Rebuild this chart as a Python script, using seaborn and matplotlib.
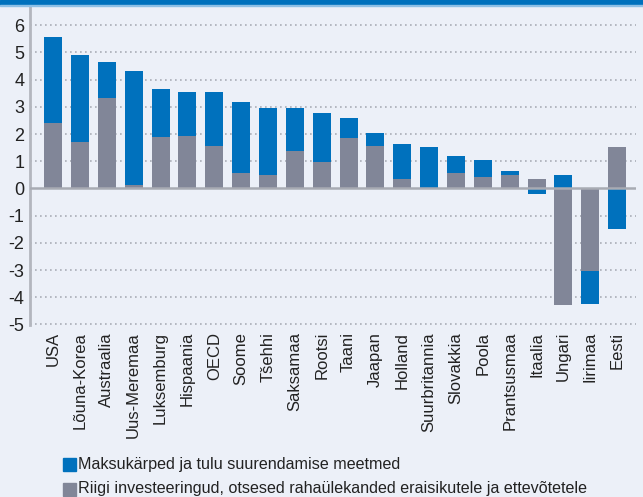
import matplotlib
matplotlib.use("Agg")
import matplotlib.pyplot as plt
from matplotlib import font_manager
from matplotlib.patches import Rectangle
import seaborn as sns
import numpy as np
import pandas as pd

countries = ["USA", "Lõuna-Korea", "Austraalia", "Uus-Meremaa", "Luksemburg",
             "Hispaania", "OECD", "Soome", "Tšehhi", "Saksamaa", "Rootsi", "Taani",
             "Jaapan", "Holland", "Suurbritannia", "Slovakkia", "Poola",
             "Prantsusmaa", "Itaalia", "Ungari", "Iirimaa", "Eesti"]
# Riigi investeeringud, otsesed rahaülekanded
spending = [2.42, 1.69, 3.34, 0.12, 1.88, 1.92, 1.55, 0.55, 0.51, 1.37, 0.99, 1.87,
            1.57, 0.33, 0.0, 0.56, 0.41, 0.48, 0.34, -4.29, -3.05, 1.51]
# Maksukärped ja tulu suurendamise meetmed
tax = [3.16, 3.23, 1.29, 4.18, 1.76, 1.64, 1.98, 2.63, 2.45, 1.59, 1.79, 0.73,
       0.48, 1.29, 1.52, 0.63, 0.63, 0.16, -0.20, 0.49, -1.21, -1.49]
y_ticks = [6, 5, 4, 3, 2, 1, 0, -1, -2, -3, -4, -5]
legend_labels = ["Maksukärped ja tulu suurendamise meetmed",
                 "Riigi investeeringud, otsesed rahaülekanded eraisikutele ja ettevõtetele"]

BLUE = "#0071BD"
GRAY = "#818698"
BG = "#ECF0F8"

sns.set_theme(style="white")
installed = {f.name for f in font_manager.fontManager.ttflist}
base_font = "Liberation Sans" if "Liberation Sans" in installed else "DejaVu Sans"
narrow_font = "Liberation Sans Narrow" if "Liberation Sans Narrow" in installed else base_font
plt.rcParams["font.family"] = [base_font, "DejaVu Sans"]

df = pd.DataFrame({"country": countries, "spending": spending, "tax": tax})
sp = np.array(spending)
tx = np.array(tax)
# tax segment sits on top of spending when both share a sign, otherwise starts at zero
df["tax_bottom"] = np.where(np.sign(sp) == np.sign(tx), sp, 0.0)

fig = plt.figure(figsize=(6.43, 4.97), dpi=100, facecolor=BG)
ax = fig.add_axes([30 / 643, 1 - 325 / 497, 606 / 643, 318 / 497])
ax.set_facecolor(BG)

sns.barplot(data=df, x="country", y="spending", color=GRAY, width=0.67,
            errorbar=None, saturation=1, ax=ax, zorder=3, linewidth=0)
sns.barplot(data=df, x="country", y="tax", bottom=df["tax_bottom"].to_numpy(),
            color=BLUE, width=0.67, errorbar=None, saturation=1, ax=ax, zorder=3,
            linewidth=0)

ax.set_ylim(-5.02, 6.67)
ax.set_xlim(-0.86, len(countries) - 0.3)
ax.set_yticks(y_ticks)
ax.set_yticklabels([str(t) for t in y_ticks], fontsize=13, color="#222222")
ax.set_xticks(range(len(countries)))
ax.set_xticklabels(countries, rotation=90, fontsize=12, color="#222222",
                   va="top", ha="center")
ax.tick_params(axis="both", length=0, pad=4)
ax.tick_params(axis="x", pad=5)
ax.set_xlabel("")
ax.set_ylabel("")

for t in y_ticks:
    if t != 0:
        ax.axhline(t, color="#A9ADB6", lw=1.2, ls=(0, (1, 2.0)), zorder=1)
ax.axhline(0, color="#A8ABB3", lw=1.8, zorder=4)

for s in ["top", "right", "bottom"]:
    ax.spines[s].set_visible(False)
ax.spines["left"].set_color("#B3B6BE")
ax.spines["left"].set_linewidth(2)

# top band
fig.patches.append(Rectangle((0, 1 - 4.5 / 497), 1, 4.5 / 497, transform=fig.transFigure,
                             color="#0071BD", zorder=0))
fig.patches.append(Rectangle((0, 1 - 6 / 497), 1, 1.5 / 497, transform=fig.transFigure,
                             color="#8EC0E6", zorder=0))

# legend
for i, (lab, col) in enumerate(zip(legend_labels, [BLUE, GRAY])):
    yc = 464 + i * 25
    fig.patches.append(Rectangle((63 / 643, 1 - (yc + 6.5) / 497), 13 / 643, 13 / 497,
                                 transform=fig.transFigure, color=col))
    fig.text(78 / 643, 1 - yc / 497, lab, fontsize=11.6, color="#222222",
             va="center", ha="left", family=[narrow_font, "DejaVu Sans"])

fig.savefig("out.png", dpi=100, facecolor=BG)
